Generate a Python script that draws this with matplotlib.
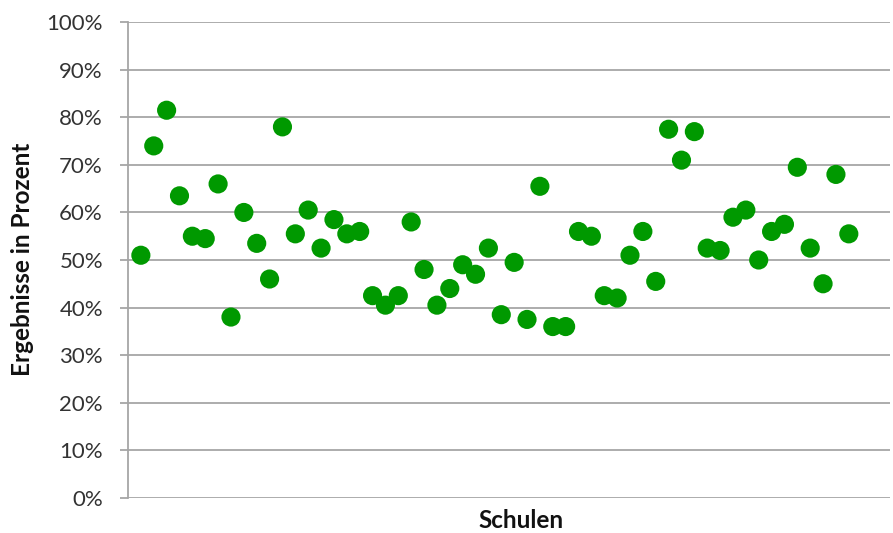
import matplotlib.pyplot as plt
from matplotlib.ticker import MultipleLocator, FuncFormatter

# results per school, in percent
schulen = list(range(1, 57))
ergebnisse = [
    51.0, 74.0, 81.5, 63.5, 55.0, 54.5, 66.0, 38.0, 60.0, 53.5,
    46.0, 78.0, 55.5, 60.5, 52.5, 58.5, 55.5, 56.0, 42.5, 40.5,
    42.5, 58.0, 48.0, 40.5, 44.0, 49.0, 47.0, 52.5, 38.5, 49.5,
    37.5, 65.5, 36.0, 36.0, 56.0, 55.0, 42.5, 42.0, 51.0, 56.0,
    45.5, 77.5, 71.0, 77.0, 52.5, 52.0, 59.0, 60.5, 50.0, 56.0,
    57.5, 69.5, 52.5, 45.0, 68.0, 55.5,
]

plt.rcParams['font.family'] = ['Lato', 'DejaVu Sans']

W, H = 893, 533
fig = plt.figure(figsize=(W / 100, H / 100), dpi=100)
ax = fig.add_axes([128 / W, 0.0662, 762 / W, 0.892])

grid_col = '#A6A6A6'
ax.scatter(schulen, ergebnisse, s=190, color='#009900', edgecolors='none', zorder=3)

ax.set_xlim(0, 59.2)
ax.set_ylim(0, 100)
ax.yaxis.set_major_locator(MultipleLocator(10))
ax.yaxis.set_major_formatter(FuncFormatter(lambda v, p: f"{v:.0f}%"))
ax.set_xticks([])
ax.grid(axis='y', color=grid_col, linewidth=1.3, zorder=0)
ax.set_axisbelow(True)

for side in ('top', 'right', 'bottom'):
    ax.spines[side].set_visible(False)
ax.spines['left'].set_color(grid_col)
ax.spines['left'].set_linewidth(1.3)
ax.tick_params(axis='y', length=6, width=1.3, color=grid_col,
               labelsize=16, labelcolor='#333333', pad=12)

# axis titles
fig.text(521 / W, (H - 528) / H, 'Schulen', ha='center', va='baseline',
         fontsize=17.5, fontweight='bold', color='#111111')
fig.text(23 / W, (H - 259.5) / H, 'Ergebnisse in Prozent', rotation=90,
         ha='center', va='center', fontsize=17.5, fontweight='bold', color='#111111')

fig.savefig('out.png', dpi=100)
